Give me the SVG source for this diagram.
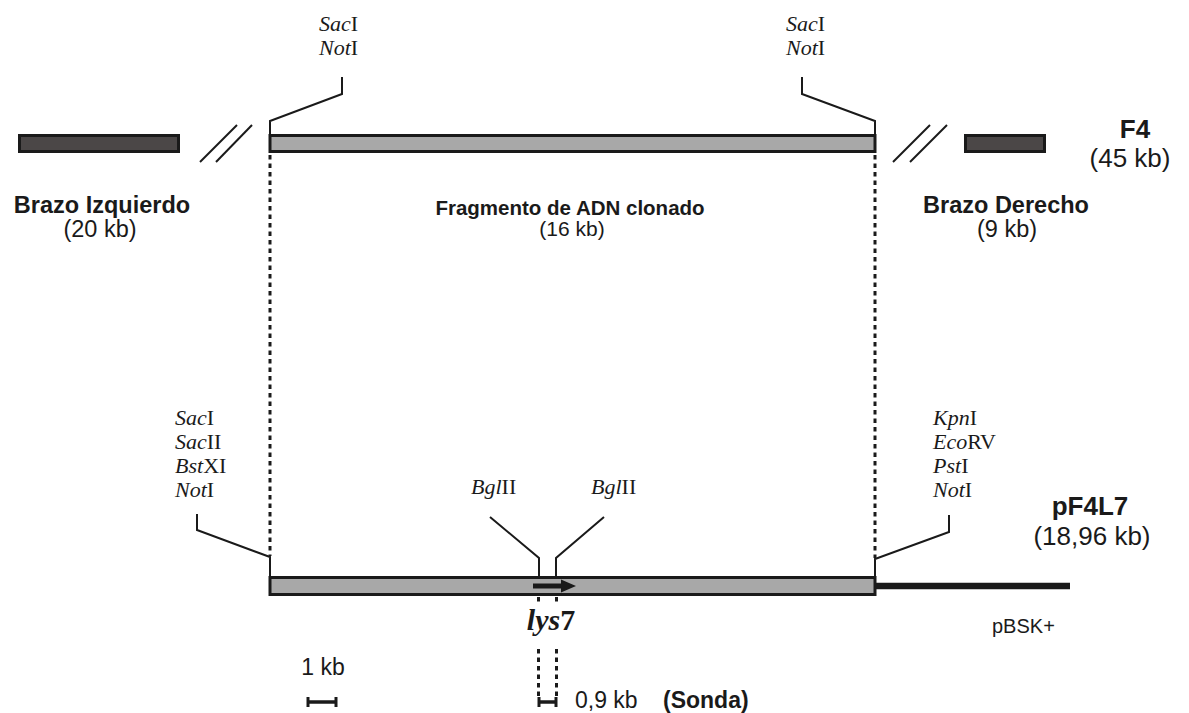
<svg xmlns="http://www.w3.org/2000/svg" width="1189" height="713" viewBox="0 0 1189 713">
<style>
.sans{font-family:"Liberation Sans",Arial,sans-serif;fill:#1a1a1a}
.b{font-weight:bold}
.ser{font-family:"Liberation Serif","Times New Roman",serif;fill:#1a1a1a;font-size:22px}
.it{font-style:italic}
.bar{fill:#a8a8a8;stroke:#1a1a1a;stroke-width:3}
.dark{fill:#4b4747;stroke:#1a1a1a;stroke-width:3}
.ln{fill:none;stroke:#1a1a1a;stroke-width:2}
.dot{fill:none;stroke:#1a1a1a;stroke-width:3;stroke-dasharray:4.5,4}
</style>
<rect width="1189" height="713" fill="#ffffff"/>
<g id="connectors">
<line class="dot" x1="270" y1="155" x2="270" y2="556"/>
<line class="dot" x1="875" y1="155" x2="875" y2="558"/>
<polyline class="ln" points="342,77 342,94 270,121 270,134"/>
<polyline class="ln" points="802,77 802,94 875,121 875,134"/>
<polyline class="ln" points="197,514 197,530 270,557 270,577"/>
<polyline class="ln" points="949,515 949,532 875,559 875,577"/>
<polyline class="ln" points="490,517 539,558 539,577"/>
<polyline class="ln" points="604,517 556,558 556,577"/>
<line class="ln" x1="200" y1="162" x2="237" y2="125"/>
<line class="ln" x1="216" y1="162" x2="252" y2="125"/>
<line class="ln" x1="893" y1="162" x2="930" y2="125"/>
<line class="ln" x1="910" y1="162" x2="947" y2="125"/>
<line class="dot" x1="538.5" y1="597" x2="538.5" y2="604"/>
<line class="dot" x1="556.5" y1="597" x2="556.5" y2="604"/>
<line class="dot" x1="538.5" y1="649" x2="538.5" y2="698"/>
<line class="dot" x1="556.5" y1="649" x2="556.5" y2="698"/>
</g>
<g id="brazo-izquierdo">
<rect class="dark" x="19.5" y="135.5" width="159" height="16"/>
<text class="sans b" x="102" y="213" font-size="23.5" text-anchor="middle">Brazo Izquierdo</text>
<text class="sans" x="100" y="237" font-size="23.5" text-anchor="middle">(20 kb)</text>
</g>
<g id="fragmento">
<rect class="bar" x="270" y="135.5" width="605" height="16"/>
<text class="sans b" x="570" y="215" font-size="20.5" text-anchor="middle">Fragmento de ADN clonado</text>
<text class="sans" x="572" y="236" font-size="21" text-anchor="middle">(16 kb)</text>
</g>
<g id="brazo-derecho">
<rect class="dark" x="965.5" y="135.5" width="79" height="16"/>
<text class="sans b" x="1006" y="213" font-size="23.5" text-anchor="middle">Brazo Derecho</text>
<text class="sans" x="1007" y="237" font-size="23.5" text-anchor="middle">(9 kb)</text>
</g>
<g id="f4">
<text class="sans b" x="1135" y="138" font-size="26" text-anchor="middle">F4</text>
<text class="sans" x="1130" y="167" font-size="26" text-anchor="middle">(45 kb)</text>
</g>
<g id="sitios-sup-izq">
<text class="ser" x="319" y="31"><tspan class="it">Sac</tspan>I</text>
<text class="ser" x="319" y="55"><tspan class="it">Not</tspan>I</text>
</g>
<g id="sitios-sup-der">
<text class="ser" x="786" y="31"><tspan class="it">Sac</tspan>I</text>
<text class="ser" x="786" y="55"><tspan class="it">Not</tspan>I</text>
</g>
<g id="sitios-inf-izq">
<text class="ser" x="175" y="425"><tspan class="it">Sac</tspan>I</text>
<text class="ser" x="175" y="449"><tspan class="it">Sac</tspan>II</text>
<text class="ser" x="175" y="473"><tspan class="it">Bst</tspan>XI</text>
<text class="ser" x="175" y="497"><tspan class="it">Not</tspan>I</text>
</g>
<g id="sitios-inf-der">
<text class="ser" x="933" y="425"><tspan class="it">Kpn</tspan>I</text>
<text class="ser" x="933" y="449"><tspan class="it">Eco</tspan>RV</text>
<text class="ser" x="933" y="473"><tspan class="it">Pst</tspan>I</text>
<text class="ser" x="933" y="497"><tspan class="it">Not</tspan>I</text>
</g>
<g id="bglii">
<text class="ser" x="471" y="494"><tspan class="it">Bgl</tspan>II</text>
<text class="ser" x="591" y="494"><tspan class="it">Bgl</tspan>II</text>
</g>
<g id="pf4l7">
<line x1="876" y1="586" x2="1070" y2="586" stroke="#1a1a1a" stroke-width="6.5"/>
<rect class="bar" x="270" y="577.5" width="605" height="17"/>
<line x1="533" y1="586" x2="563" y2="586" stroke="#1a1a1a" stroke-width="5"/>
<polygon points="561,579.5 576,586 561,592.5" fill="#1a1a1a"/>
<text class="sans b" x="1090" y="515" font-size="26" text-anchor="middle">pF4L7</text>
<text class="sans" x="1092" y="545" font-size="26" text-anchor="middle">(18,96 kb)</text>
<text class="sans" x="992" y="633" font-size="20">pBSK+</text>
</g>
<g id="lys7">
<text x="551" y="630" font-family="'Liberation Serif','Times New Roman',serif" font-weight="bold" font-size="30" fill="#1a1a1a" text-anchor="middle"><tspan font-style="italic">lys</tspan>7</text>
</g>
<g id="escala">
<text class="sans" x="323" y="675" font-size="23" text-anchor="middle">1 kb</text>
<line x1="307" y1="702" x2="337" y2="702" stroke="#1a1a1a" stroke-width="3.5"/>
<line x1="308" y1="697" x2="308" y2="707" stroke="#1a1a1a" stroke-width="3"/>
<line x1="336" y1="697" x2="336" y2="707" stroke="#1a1a1a" stroke-width="3"/>
</g>
<g id="sonda">
<line x1="538" y1="702" x2="557" y2="702" stroke="#1a1a1a" stroke-width="3.5"/>
<line x1="539" y1="697" x2="539" y2="707" stroke="#1a1a1a" stroke-width="3"/>
<line x1="556" y1="697" x2="556" y2="707" stroke="#1a1a1a" stroke-width="3"/>
<text class="sans" x="575" y="708" font-size="23">0,9 kb</text>
<text class="sans b" x="663" y="708" font-size="23">(Sonda)</text>
</g>
</svg>
